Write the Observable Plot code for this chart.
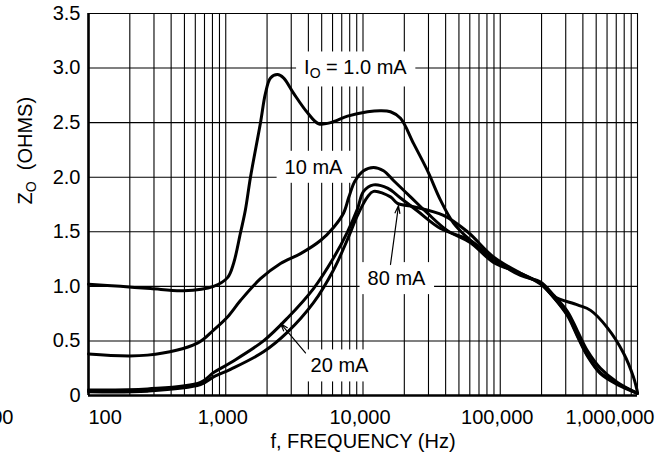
<!DOCTYPE html>
<html>
<head>
<meta charset="utf-8">
<script src="https://cdn.jsdelivr.net/npm/d3@7"></script>
<script src="https://cdn.jsdelivr.net/npm/@observablehq/plot@0.6"></script>
<style>
  html, body { margin: 0; padding: 0; background: #fff; }
  svg { display: block; }
</style>
</head>
<body>
<div id="chart"></div>
<script>
// ---------- data ----------
const seriesNames = ["1.0 mA", "10 mA", "20 mA", "80 mA"];

const freq_1mA = [100, 171, 283, 492, 815, 1030, 1140, 1280, 1390, 1514, 1791, 1948, 2119, 2383, 2634, 3117, 3943, 4743, 5800, 7710, 10790, 13420, 15860, 18760, 23330, 29500, 36700, 45650, 60700, 89300, 140600, 196500, 244400, 365500, 455000, 604000, 790000, 934000, 1000000];
const z_1mA    = [1.02, 1.00, 0.98, 0.96, 1.00, 1.08, 1.21, 1.49, 1.70, 2.00, 2.50, 2.77, 2.91, 2.94, 2.91, 2.77, 2.59, 2.49, 2.50, 2.56, 2.60, 2.61, 2.60, 2.54, 2.31, 2.06, 1.79, 1.58, 1.42, 1.24, 1.11, 1.03, 0.91, 0.83, 0.78, 0.62, 0.39, 0.17, 0.03];

const freq_10mA = [100, 269, 622, 815, 1030, 1280, 1791, 2506, 3508, 4900, 6100, 7210, 7900, 8700, 10090, 11940, 14100, 16680, 22180, 29500, 41300, 60700, 89300, 140600, 196500, 244400, 309000, 365500, 432000, 537000, 715000, 1000000];
const z_10mA    = [0.38, 0.37, 0.48, 0.60, 0.72, 0.87, 1.07, 1.21, 1.30, 1.42, 1.54, 1.67, 1.82, 1.96, 2.06, 2.09, 2.06, 1.97, 1.82, 1.67, 1.51, 1.40, 1.22, 1.12, 1.02, 0.90, 0.74, 0.55, 0.37, 0.21, 0.11, 0.02];

const freq_20mA = [100, 269, 655, 815, 1083, 1884, 2818, 4360, 6095, 7710, 9120, 10090, 11940, 15100, 18760, 24950, 36700, 60700, 89300, 140600, 196500, 244400, 309000, 365500, 432000, 537000, 715000, 1000000];
const z_20mA    = [0.05, 0.06, 0.12, 0.21, 0.30, 0.50, 0.71, 0.98, 1.26, 1.50, 1.71, 1.87, 1.93, 1.90, 1.81, 1.69, 1.53, 1.42, 1.25, 1.10, 1.04, 0.92, 0.77, 0.59, 0.41, 0.25, 0.12, 0.02];

const freq_80mA = [100, 269, 655, 815, 1083, 1884, 2818, 4360, 6095, 7710, 9120, 10790, 11940, 15860, 17840, 23330, 38600, 57700, 89300, 140600, 196500, 244400, 309000, 365500, 432000, 537000, 715000, 1000000];
const z_80mA    = [0.035, 0.04, 0.10, 0.17, 0.24, 0.40, 0.58, 0.85, 1.15, 1.43, 1.65, 1.82, 1.87, 1.82, 1.76, 1.73, 1.65, 1.50, 1.27, 1.12, 1.03, 0.90, 0.73, 0.54, 0.36, 0.20, 0.10, 0.02];

const xTickValues = [100, 1000, 10000, 100000, 1000000];
const yTickValues = [0, 0.5, 1.0, 1.5, 2.0, 2.5, 3.0, 3.5];
const gridMultipliers = [1, 2, 3, 4, 5, 6, 7, 8, 9];
const gridDecades = [100, 1000, 10000, 100000];

const curveLabelText = ["I_O = 1.0 mA", "10 mA", "80 mA", "20 mA"];
const curveLabelFreq = [8800, 4360, 17540, 6740];
const curveLabelZ    = [3.0, 2.09, 1.07, 0.27];

const arrowFromFreq = [15860, 3810];
const arrowFromZ    = [1.20, 0.39];
const arrowToFreq   = [18140, 2506];
const arrowToZ      = [1.74, 0.66];

const xTitle = "f, FREQUENCY (Hz)";
const yTitle = "Z_O\u00a0 (OHMS)";
const strayLabel = "1,000,000";

// ---------- build tables ----------
const seriesFreq = [freq_1mA, freq_10mA, freq_20mA, freq_80mA];
const seriesZ = [z_1mA, z_10mA, z_20mA, z_80mA];
const rows = seriesNames.flatMap((name, s) =>
  seriesFreq[s].map((f, i) => ({series: name, f, z: seriesZ[s][i]})));
const xGrid = gridDecades.flatMap(d => gridMultipliers.map(m => d * m)).concat([1000000]);
const labels = curveLabelText.map((t, i) => ({t, f: curveLabelFreq[i], z: curveLabelZ[i]}));
const arrows = arrowFromFreq.map((f, i) => ({f1: f, z1: arrowFromZ[i], f2: arrowToFreq[i], z2: arrowToZ[i]}));

const FS = 20;
const FONT = "'Liberation Sans', Arial, Helvetica, sans-serif";
const fmt = d3.format(",");

const svg = Plot.plot({
  width: 669,
  height: 464,
  marginLeft: 88,
  marginRight: 32,
  marginTop: 13,
  marginBottom: 69,
  style: {fontFamily: FONT, fontSize: FS + "px", background: "#fff", color: "#000", overflow: "visible"},
  x: {type: "log", domain: [100, 1000000]},
  y: {domain: [0, 3.5]},
  marks: [
    Plot.ruleX(xGrid, {stroke: "#000", strokeWidth: 1.1}),
    Plot.ruleY(yTickValues, {stroke: "#000", strokeWidth: 1.1}),
    Plot.ruleX([100], {stroke: "#000", strokeWidth: 2.6}),
    Plot.ruleY([0], {stroke: "#000", strokeWidth: 2.6}),
    Plot.line(rows, {x: "f", y: "z", z: "series", stroke: "#000", strokeWidth: 3, curve: "catmull-rom", strokeLinejoin: "round"}),
    Plot.arrow(arrows, {x1: "f1", y1: "z1", x2: "f2", y2: "z2", stroke: "#000", strokeWidth: 1.2, headLength: 10, headAngle: 35}),
    Plot.text(labels, {x: "f", y: "z", text: "t", fill: "#000", fontSize: FS, ariaDescription: "curve-labels"}),
    Plot.axisX([100], {tickSize: 0, tickPadding: 14, textAnchor: "start", tickFormat: fmt, fontSize: FS, label: null}),
    Plot.axisX([1000, 10000, 100000], {tickSize: 0, tickPadding: 14, tickFormat: fmt, fontSize: FS, dx: -3, label: null}),
    Plot.axisX([1000000], {tickSize: 0, tickPadding: 14, textAnchor: "end", tickFormat: fmt, fontSize: FS, dx: 17, label: null}),
    Plot.axisY(yTickValues, {tickSize: 0, tickPadding: 8, tickFormat: d => d === 0 ? "0" : d.toFixed(1), fontSize: FS, label: null}),
    Plot.text([yTitle], {frameAnchor: "left", rotate: -90, dx: -63, fontSize: FS, fill: "#000"}),
    Plot.text([xTitle], {frameAnchor: "bottom", dy: 38, lineAnchor: "top", fontSize: FS, fill: "#000"}),
    Plot.text([strayLabel], {frameAnchor: "bottom-left", dx: -75, dy: 14, lineAnchor: "top", textAnchor: "end", fontSize: FS, fill: "#000"})
  ]
});

document.getElementById("chart").append(svg);

// subscripts ("X_Yrest" -> X, subscript Y, rest)
const NS = "http://www.w3.org/2000/svg";
svg.querySelectorAll("text").forEach(el => {
  const s = el.textContent;
  const k = s.indexOf("_");
  if (k < 0 || el.querySelector("tspan")) return;
  const base = s.slice(0, k), sub = s.slice(k + 1, k + 2), rest = s.slice(k + 2);
  el.textContent = "";
  const a = document.createElementNS(NS, "tspan"); a.textContent = base;
  const b = document.createElementNS(NS, "tspan"); b.textContent = sub;
  b.setAttribute("font-size", "14"); b.setAttribute("dy", "4");
  const c = document.createElementNS(NS, "tspan"); c.textContent = rest; c.setAttribute("dy", "-4");
  el.append(a, b, c);
});

// white label boxes drawn behind the curves, sized from the label texts
const svgBox = svg.getBoundingClientRect();
const lineGroup = svg.querySelector('g[aria-label="line"]');
const boxGroup = document.createElementNS(NS, "g");
svg.querySelectorAll('g[aria-description="curve-labels"] text').forEach(el => {
  const r = el.getBoundingClientRect();
  const rect = document.createElementNS(NS, "rect");
  rect.setAttribute("x", r.left - svgBox.left - 8);
  rect.setAttribute("y", r.top - svgBox.top - 5);
  rect.setAttribute("width", r.width + 16);
  rect.setAttribute("height", r.height + 10);
  rect.setAttribute("fill", "#fff");
  boxGroup.append(rect);
});
lineGroup.parentNode.insertBefore(boxGroup, lineGroup);
</script>
</body>
</html>
